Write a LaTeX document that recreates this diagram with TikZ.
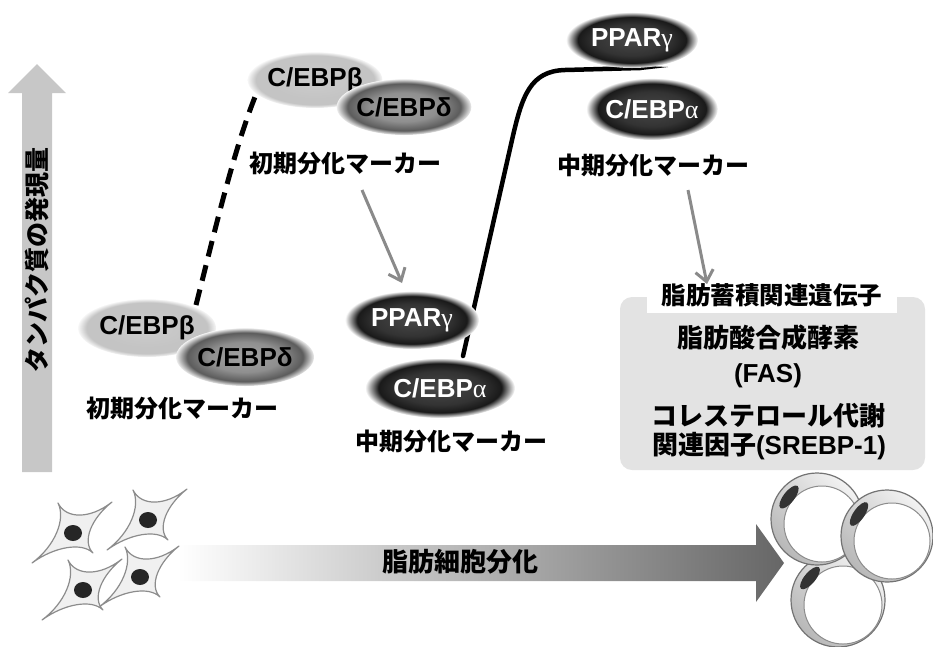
\documentclass[tikz,border=0pt]{standalone}
\usepackage{fontspec}
\setmainfont{Liberation Sans}
\newfontfamily\jpfont{Noto Sans CJK JP}
\newfontfamily\grkfont{Liberation Serif}
\usetikzlibrary{arrows.meta,shapes.geometric,calc}

% soft-edged blobs: solid core, fading to white at the rim
\pgfdeclareradialshading{softlight}{\pgfpoint{0bp}{0bp}}{%
  color(0bp)=(black!20); color(16bp)=(black!23); color(22bp)=(black!23); color(25.5bp)=(white); color(50bp)=(white)}
\pgfdeclareradialshading{softmid}{\pgfpoint{0bp}{0bp}}{%
  color(0bp)=(black!36); color(13bp)=(black!44); color(21bp)=(black!64); color(25.5bp)=(white); color(50bp)=(white)}
\pgfdeclareradialshading{softdark}{\pgfpoint{0bp}{0bp}}{%
  color(0bp)=(black!72); color(14bp)=(black!80); color(20.5bp)=(black!90); color(25bp)=(white); color(50bp)=(white)}

% star-shaped preadipocyte
\newcommand\starcell[2]{%
  \begin{scope}[shift={(#1,#2)}]
    \draw[cellbody] (39,-31) .. controls (17.5,-14) and (-6.8,-13.5) .. (-15,-30)
      .. controls (-6.8,-13.5) and (-18.5,13.5) .. (-41,30)
      .. controls (-18.5,13.5) and (9,9) .. (20,20)
      .. controls (9,9) and (17.5,-14) .. (39,-31) -- cycle;
    \fill[black!85] (0,0) ellipse (9 and 8);
  \end{scope}}

% round mature adipocyte: ring, lipid droplet, flattened nucleus
\newcommand\fatcell[4]{%
  \shade[draw=black!55, line width=1.2pt, top color=black!5, bottom color=black!28, shading angle=-45] (#1,#2) circle (#3);
  \draw[fill=white, draw=black!45, line width=1pt] ($(#1,#2)+(5,5)$) circle (#3-8);
  \fill[black!80, rotate around={#4:($(#1,#2)+(-28,-22)$)}] ($(#1,#2)+(-28,-22)$) ellipse (14 and 5.5);}

\begin{document}
\begin{tikzpicture}[x=1pt, y=-1pt,
  blob/.style={ellipse, inner sep=0pt, shade, font=\bfseries\fontsize{26}{26}\selectfont},
  lightblob/.style={blob, shading=softlight},
  midblob/.style={blob, shading=softmid},
  darkblob/.style={blob, shading=softdark, text=white},
  stage/.style={font=\jpfont\bfseries\fontsize{24}{24}\selectfont},
  boxtext/.style={font=\jpfont\bfseries\fontsize{26}{26}\selectfont},
  flow/.style={draw=black!46, line width=3pt, -{Straight Barb[length=11pt, width=18pt]}},
  dashline/.style={line width=5pt, dash pattern=on 16pt off 9pt},
  riseline/.style={line width=4.5pt, line cap=round, line join=round},
  cellbody/.style={fill=black!6, draw=black!45, line width=1.2pt, line join=round}]

\useasboundingbox (0,0) rectangle (933,646);

% vertical axis arrow
\fill[black!22] (22,472) -- (22,93) -- (8,93) -- (37,64) -- (66,93) -- (52,93) -- (52,472) -- cycle;
\node[rotate=90, font=\jpfont\bfseries\fontsize{25}{25}\selectfont] (axis) at (37,260) {タンパク質の発現量};

% horizontal differentiation arrow
\shade[left color=white, right color=black!60] (178,545) -- (756,545) -- (756,524) -- (784,563) -- (756,602) -- (756,581) -- (178,581) -- cycle;
\node[font=\jpfont\bfseries\fontsize{26}{26}\selectfont] (diff) at (460,562) {脂肪細胞分化};

% expression curves
\coordinate (early0) at (196,305);
\coordinate (early1) at (257,92);
\draw[dashline] (early0) .. controls (215,230) and (235,145) .. (early1);
\coordinate (mid0) at (463,356);
\coordinate (mid1) at (512,140);
\coordinate (mid2) at (640,68);
\draw[riseline] (mid0) -- (mid1) .. controls (522,96) and (530,71) .. (565,70) -- (mid2);
\fill (640,65.8) -- (668,67) -- (640,70.2) -- cycle;

% early markers, low level
\node[lightblob, minimum width=138pt, minimum height=58pt] (b1) at (147,328) {C/EBPβ};
\node[midblob, minimum width=138pt, minimum height=58pt] (d1) at (245,357) {C/EBPδ};
\node[stage] (lab1) at (182,408) {初期分化マーカー};

% early markers, high level
\node[lightblob, minimum width=134pt, minimum height=56pt] (b2) at (315,80) {C/EBPβ};
\node[midblob, minimum width=128pt, minimum height=56pt] (d2) at (404,107) {C/EBPδ};
\node[stage] (lab2) at (345,163) {初期分化マーカー};

% intermediate markers, low level
\node[darkblob, minimum width=134pt, minimum height=58pt] (g1) at (412,320) {PPAR{\grkfont\mdseries γ}};
\node[darkblob, minimum width=150pt, minimum height=60pt] (a1) at (440,388) {C/EBP{\grkfont\mdseries α}};
\node[stage] (lab3) at (451,441) {中期分化マーカー};

% intermediate markers, high level
\node[darkblob, minimum width=132pt, minimum height=56pt] (g2) at (632,40) {PPAR{\grkfont\mdseries γ}};
\node[darkblob, minimum width=124pt, minimum height=62pt] (a2) at (652,109) {C/EBP{\grkfont\mdseries α}};
\node[stage] (lab4) at (653,165) {中期分化マーカー};

% gene box
\node[fill=black!11, rounded corners=12pt, minimum width=305pt, minimum height=173pt] (genebox) at (772.5,383.5) {};
\node[fill=white, minimum width=250pt, minimum height=35pt, inner sep=0pt,
      font=\jpfont\bfseries\fontsize{24.5}{24.5}\selectfont] (genetitle) at (772,295) {脂肪蓄積関連遺伝子};
\node[boxtext] (fas1) at (768,338) {脂肪酸合成酵素};
\node[font=\bfseries\fontsize{26}{26}\selectfont] (fas2) at (768,376) {(FAS)};
\node[boxtext] (sre1) at (768,416) {コレステロール代謝};
\node[font=\bfseries\fontsize{26}{26}\selectfont] (sre2) at (769,446) {{\jpfont 関連因子}(SREBP-1)};

% progression arrows
\coordinate (f1s) at (362,190);
\coordinate (f1e) at (402,283);
\draw[flow] (f1s) -- (f1e);
\coordinate (f2s) at (688,190);
\coordinate (f2e) at (707,284);
\draw[flow] (f2s) -- (f2e);

% preadipocytes
\starcell{73}{533}
\starcell{148}{520}
\starcell{140}{577}
\starcell{83}{590}

% mature adipocytes
\fatcell{838}{600}{47}{50}
\fatcell{817}{519}{46}{52}
\fatcell{887}{536}{46}{55}

\end{tikzpicture}
\end{document}
